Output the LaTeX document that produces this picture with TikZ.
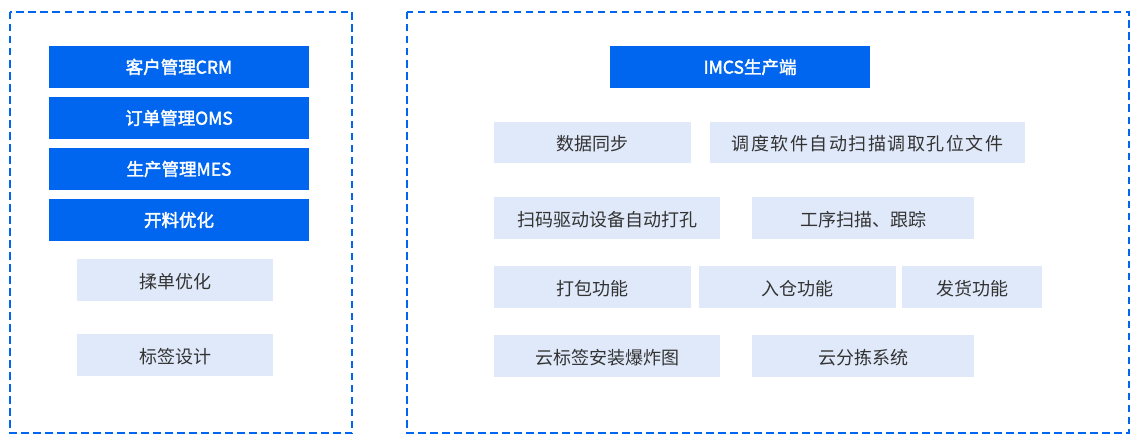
\documentclass[tikz,border=0pt]{standalone}
\usepackage{fontspec}
\setmainfont{Noto Sans CJK SC}
\definecolor{mainblue}{HTML}{0066EF}
\definecolor{lightblue}{HTML}{E0E9F9}
\definecolor{txtgray}{HTML}{333333}
\tikzset{
  frame/.style={draw=mainblue, line width=2pt, dash pattern=on 7.5pt off 4.5pt},
  bluebox/.style={fill=mainblue, text=white, inner sep=0pt, minimum height=42pt, text height=13.3pt, text depth=0pt, font=\fontsize{17.5}{20}\selectfont\addfontfeature{FakeBold=2}},
  lightbox/.style={fill=lightblue, text=txtgray, inner sep=0pt, minimum height=42pt, text height=16.6pt, text depth=0pt, font=\fontsize{18}{20}\selectfont},
}
\begin{document}
\begin{tikzpicture}[x=1pt,y=-1pt]
\useasboundingbox (0,0) rectangle (1139,444);
\path[frame] (10,12) rectangle (352,433);
\path[frame] (407,12) rectangle (1129,433);
% left column
\node[bluebox, minimum width=260pt] (crm) at (179,67) {客户管理CRM};
\node[bluebox, minimum width=260pt] (oms) at (179,118) {订单管理OMS};
\node[bluebox, minimum width=260pt] (mes) at (179,169) {生产管理MES};
\node[bluebox, minimum width=260pt] (kl) at (179,220) {开料优化\hspace{26pt}};
\node[lightbox, minimum width=196pt] (rd) at (175,280) {揉单优化};
\node[lightbox, minimum width=196pt] (bq) at (175,355) {标签设计};
% right
\node[bluebox, minimum width=260pt] (imcs) at (740,67) {\hspace{20pt}IMCS生产端};
\node[lightbox, minimum width=197pt, minimum height=41pt] (sj) at (592.5,142.5) {数据同步};
\node[lightbox, minimum width=315pt, minimum height=41pt] (dd) at (867.5,142.5) {\addfontfeature{LetterSpace=8.5}调度软件自动扫描调取孔位文件};
\node[lightbox, minimum width=226pt] (sm) at (607,218) {扫码驱动设备自动打孔};
\node[lightbox, minimum width=222pt] (gx) at (863,218) {工序扫描、跟踪};
\node[lightbox, minimum width=197pt] (db) at (592.5,287) {打包功能};
\node[lightbox, minimum width=197pt] (rc) at (797.5,287) {入仓功能};
\node[lightbox, minimum width=140pt] (fh) at (972,287) {发货功能};
\node[lightbox, minimum width=226pt] (yb) at (607,356) {云标签安装爆炸图};
\node[lightbox, minimum width=222pt] (yf) at (863,356) {云分拣系统};
\end{tikzpicture}
\end{document}
